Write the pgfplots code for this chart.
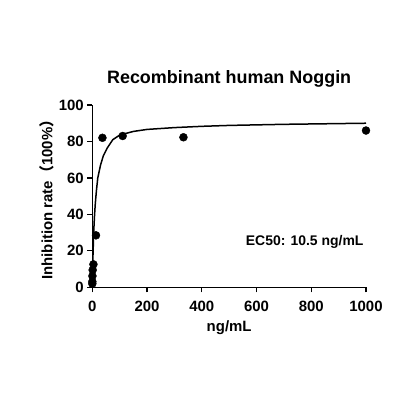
\documentclass[border=0pt]{standalone}
\usepackage{fontspec}
\setmainfont{Liberation Sans}
\newfontfamily\cjk{Noto Sans CJK SC}
\usepackage{pgfplots}
\pgfplotsset{compat=1.18}
\begin{document}
\begin{tikzpicture}[x=1bp,y=1bp]
\path[use as bounding box] (0,0) rectangle (400,400);
\begin{axis}[
  at={(92.3bp,112.7bp)}, anchor=south west,
  scale only axis, width=273.7bp, height=182.3bp,
  xmin=0, xmax=1000, ymin=0, ymax=100,
  axis x line*=bottom, axis y line*=left,
  axis line style={-, line width=1.3bp},
  tick align=outside,
  major tick length=5bp,
  tick style={line width=1.3bp, black},
  xtick={0,200,400,600,800,1000},
  ytick={0,20,40,60,80,100},
  /pgf/number format/assume math mode=true,
  /pgf/number format/1000 sep={},
  ticklabel style={font=\fontsize{15}{17}\selectfont\bfseries},
  xticklabel style={yshift=-5bp},
  xlabel={ng/mL},
  ylabel={Inhibition rate{\cjk （}100\%{\cjk ）}},
  label style={font=\fontsize{15}{17}\selectfont\bfseries},
  xlabel style={yshift=-2bp},
  ylabel style={yshift=-2bp},
  title={Recombinant human Noggin},
  title style={font=\fontsize{18}{20}\selectfont\bfseries, yshift=8bp},
  clip=false,
]
\addplot[black, line width=1.5bp] coordinates {
(0,0) (1,8) (2,15) (4,25) (6,33) (8,39) (10.5,45) (15,53) (20,60) (30,67)
(40,72) (55,76.5) (75,81) (100,83.5) (150,85.5) (200,86.6) (300,87.6) (400,88.3)
(500,88.8) (700,89.4) (1000,90)
};
\addplot[only marks, mark=*, mark size=4bp, black] coordinates {
(0.05,2) (0.15,3.1) (0.46,6.2) (1.37,9.5) (4.1,12.6) (13.5,28.5)
(37,82) (111,83) (333,82.3) (1000,86)
};
\node[font=\fontsize{14}{16}\selectfont\bfseries] at (axis cs:776,25) {EC50: 10.5 ng/mL};
\end{axis}
\end{tikzpicture}
\end{document}
